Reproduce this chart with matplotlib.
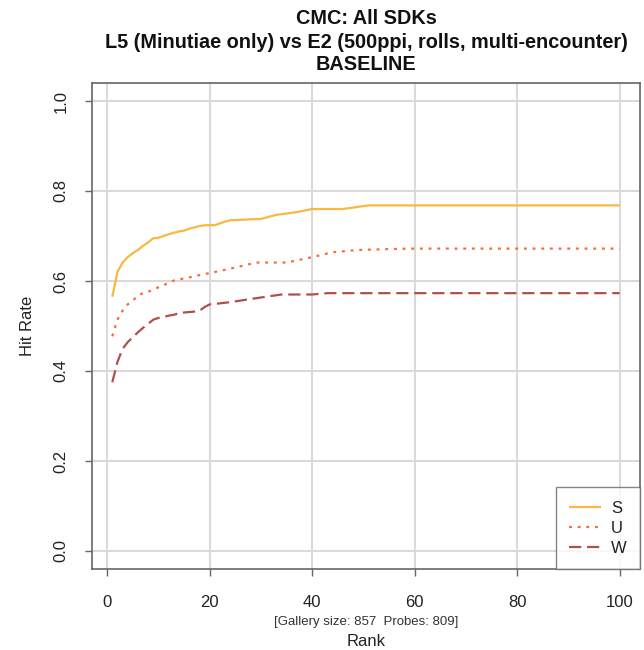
import matplotlib
matplotlib.use("Agg")
import matplotlib.pyplot as plt

# ---- data ----
s_rank = [1, 2, 3, 4, 5, 6, 7, 8, 9, 10, 11, 12, 13, 14, 15, 16, 17, 18, 19, 20, 21,
          22, 23, 24, 30, 33, 37, 40, 46, 51, 100]
s_rate = [0.565, 0.620, 0.641, 0.653, 0.662, 0.669, 0.678, 0.686, 0.695, 0.696, 0.700,
          0.704, 0.707, 0.710, 0.712, 0.716, 0.719, 0.722, 0.724, 0.724, 0.724,
          0.728, 0.732, 0.735, 0.738, 0.747, 0.753, 0.760, 0.760, 0.768, 0.768]

u_rank = [1, 2, 3, 4, 5, 6, 7, 8, 9, 10, 11, 12, 13, 14, 15, 16, 17, 18, 19, 20, 21,
          25, 29, 35, 40, 44, 49, 59, 100]
u_rate = [0.477, 0.514, 0.534, 0.548, 0.556, 0.568, 0.573, 0.576, 0.581, 0.586, 0.590,
          0.597, 0.601, 0.603, 0.606, 0.608, 0.611, 0.613, 0.616, 0.617, 0.620,
          0.630, 0.641, 0.641, 0.653, 0.664, 0.669, 0.672, 0.672]

w_rank = [1, 2, 3, 4, 5, 6, 7, 8, 9, 10, 11, 12, 13, 14, 15, 16, 17, 18, 19, 20, 21,
          24, 28, 31, 34, 40, 43, 100]
w_rate = [0.375, 0.420, 0.449, 0.464, 0.475, 0.486, 0.496, 0.505, 0.514, 0.518, 0.520,
          0.523, 0.525, 0.528, 0.530, 0.531, 0.532, 0.534, 0.542, 0.548, 0.549,
          0.553, 0.560, 0.565, 0.570, 0.570, 0.573, 0.573]

series_labels = ["S", "U", "W"]
x_ticks = [0, 20, 40, 60, 80, 100]
y_ticks = [0.0, 0.2, 0.4, 0.6, 0.8, 1.0]
y_tick_labels = ["0.0", "0.2", "0.4", "0.6", "0.8", "1.0"]

title_lines = ["CMC: All SDKs",
               "L5 (Minutiae only) vs E2 (500ppi, rolls, multi-encounter)",
               "BASELINE"]
sub_text = "[Gallery size: 857  Probes: 809]"

# ---- figure ----
plt.rcParams['font.family'] = ['Liberation Sans', 'DejaVu Sans']
W, H = 644, 650
fig = plt.figure(figsize=(W / 100, H / 100), dpi=100)
fig.patch.set_facecolor("white")

L, R, T, B = 92, 640, 83, 569
ax = fig.add_axes([L / W, 1 - B / H, (R - L) / W, (B - T) / H])
ax.set_xlim(-2.96, 103.96)
ax.set_ylim(-0.04, 1.04)

grid_c = "#dadada"
for xv in x_ticks:
    ax.axvline(xv, color=grid_c, lw=1.5, zorder=0)
for yv in y_ticks:
    ax.axhline(yv, color=grid_c, lw=1.5, zorder=0)

ax.plot(s_rank, s_rate, color="#F9B840", lw=1.6, label=series_labels[0],
        solid_capstyle="butt", zorder=3)
ax.plot(u_rank, u_rate, color="#F36C3E", lw=1.6, label=series_labels[1],
        linestyle=(0, (1.3, 2.6)), dash_capstyle="butt", zorder=3)
ax.plot(w_rank, w_rate, color="#B0504B", lw=1.6, label=series_labels[2],
        linestyle=(0, (5.5, 2.6)), dash_capstyle="butt", zorder=3)

for sp in ax.spines.values():
    sp.set_color("#666666")
    sp.set_linewidth(1.2)

ax.set_xticks(x_ticks)
ax.set_xticklabels([str(v) for v in x_ticks])
ax.set_yticks(y_ticks)
ax.set_yticklabels(y_tick_labels, rotation=90, va="center")
ax.tick_params(axis="both", direction="out", length=5, width=1, color="#666666",
               labelsize=12, labelcolor="#222222")
ax.tick_params(axis="x", pad=14)
ax.tick_params(axis="y", pad=12)

leg = ax.legend(loc="lower right", borderaxespad=0, fancybox=False,
                frameon=True, fontsize=12, handlelength=1.9, handletextpad=0.6,
                labelspacing=0.3, borderpad=0.8)
leg.get_frame().set_edgecolor("#666666")
leg.get_frame().set_linewidth(1.0)
for t in leg.get_texts():
    t.set_color("#222222")

cx = (L + R) / 2 / W
fig.text(cx, 1 - 18 / H, title_lines[0], ha="center", va="center",
         fontsize=14.3, fontweight="bold", color="#111111")
fig.text(cx, 1 - 42 / H, title_lines[1], ha="center", va="center",
         fontsize=14.3, fontweight="bold", color="#111111")
fig.text(cx, 1 - 65 / H, title_lines[2], ha="center", va="center",
         fontsize=14.3, fontweight="bold", color="#111111")

fig.text(cx, 1 - 622 / H, sub_text, ha="center", va="center",
         fontsize=9.5, color="#333333")
fig.text(cx, 1 - 641 / H, "Rank", ha="center", va="center",
         fontsize=12, color="#222222")
fig.text(27 / W, 1 - ((T + B) / 2) / H, "Hit Rate", ha="center", va="center",
         rotation=90, fontsize=12, color="#222222")

fig.savefig("out.png", dpi=100)
